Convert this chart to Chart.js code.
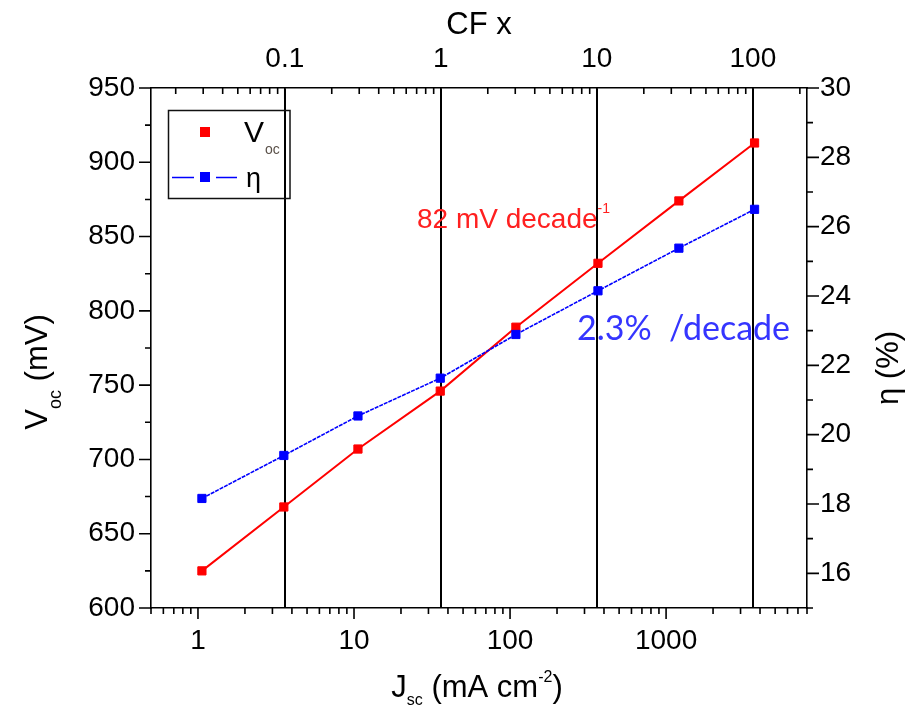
<!DOCTYPE html>
<html><head><meta charset="utf-8">
<script src="https://cdn.jsdelivr.net/npm/chart.js@4/dist/chart.umd.min.js"></script>
<style>html,body{margin:0;padding:0;background:#fff;}canvas{display:block;}</style>
</head><body>
<canvas id="c" width="910" height="709"></canvas>
<script>
// ---- data ----
const jsc = [1.06, 3.55, 10.6, 35.7, 109, 366, 1208, 3690];          // mA cm^-2
const voc = [625, 668, 707, 746, 789, 832, 874, 913];                 // mV
const eta = [18.16, 19.40, 20.54, 21.63, 22.89, 24.15, 25.38, 26.50]; // %
const jscTicks = [1, 10, 100, 1000];
const cfTicks = [0.1, 1, 10, 100];
const vocTicks = [600, 650, 700, 750, 800, 850, 900, 950];
const etaTicks = [16, 18, 20, 22, 24, 26, 28, 30];
const jscRange = [0.5, 8000];
const vocRange = [600, 950];
const etaRange = [15, 30];
const sunJsc = 36;           // Jsc at 1 sun (CF = Jsc / sunJsc)
const vocMinorStep = 25;
const etaMinorStep = 1;
const vocAnnot = '82 mV decade';
const etaAnnot = '2.3%  /decade';

const SANS = "'Liberation Sans', Arial, sans-serif";
const RED = '#ff0000', BLUE = '#0000ff';

function logTicks(min, max) {
  const out = [];
  for (let e = Math.floor(Math.log10(min)); e <= Math.ceil(Math.log10(max)); e++) {
    for (let k = 1; k < 10; k++) {
      const v = k * Math.pow(10, e);
      if (v >= min * 0.9999 && v <= max * 1.0001) out.push({ v, major: k === 1 });
    }
  }
  return out;
}

function rich(ctx, parts, x, y, align) {
  let total = 0;
  const ws = parts.map(p => {
    ctx.font = (p.weight || '') + ' ' + p.size + 'px ' + (p.family || SANS);
    const w = ctx.measureText(p.t).width; total += w; return w;
  });
  let cx = align === 'center' ? x - total / 2 : (align === 'right' ? x - total : x);
  parts.forEach((p, i) => {
    ctx.font = (p.weight || '') + ' ' + p.size + 'px ' + (p.family || SANS);
    ctx.fillStyle = p.color || '#000';
    ctx.fillText(p.t, cx, y + (p.dy || 0));
    cx += ws[i];
  });
}

const tickPlugin = {
  id: 'tickMarks',
  afterDraw(chart) {
    const ctx = chart.ctx, a = chart.chartArea, s = chart.scales;
    ctx.save();
    ctx.strokeStyle = '#000'; ctx.lineWidth = 1.6;
    ctx.beginPath();
    for (const t of logTicks(s.x.min, s.x.max)) {
      const px = s.x.getPixelForValue(t.v);
      ctx.moveTo(px, a.bottom); ctx.lineTo(px, a.bottom + (t.major ? 11 : 6));
    }
    for (const t of logTicks(s.x2.min, s.x2.max)) {
      const px = s.x2.getPixelForValue(t.v);
      ctx.moveTo(px, a.top); ctx.lineTo(px, a.top + (t.major ? 11 : 6));
    }
    for (let v = s.y.min; v <= s.y.max + 1e-9; v += vocMinorStep) {
      const py = s.y.getPixelForValue(v);
      const major = vocTicks.includes(v);
      ctx.moveTo(a.left, py); ctx.lineTo(a.left - (major ? 12 : 6), py);
    }
    for (let v = s.y2.min; v <= s.y2.max + 1e-9; v += etaMinorStep) {
      const py = s.y2.getPixelForValue(v);
      const major = etaTicks.includes(v);
      ctx.moveTo(a.right, py); ctx.lineTo(a.right + (major ? 12 : 6), py);
    }
    ctx.stroke();
    ctx.restore();
  }
};

const textPlugin = {
  id: 'texts',
  afterDraw(chart) {
    const ctx = chart.ctx, a = chart.chartArea;
    ctx.save();
    ctx.textBaseline = 'alphabetic';
    // top title
    rich(ctx, [{ t: 'CF x', size: 31 }], (a.left + a.right) / 2, 34, 'center');
    // bottom title
    rich(ctx, [
      { t: 'J', size: 31 }, { t: 'sc', size: 16, dy: 8 }, { t: ' (mA cm', size: 31 },
      { t: '-2', size: 16, dy: -15 }, { t: ')', size: 31 }
    ], 477, 697, 'center');
    // left title
    ctx.save(); ctx.translate(47, 372); ctx.rotate(-Math.PI / 2);
    rich(ctx, [{ t: 'V', size: 31 }, { t: 'oc', size: 18, dy: 14 }, { t: ' (mV)', size: 31 }], 0, 0, 'center');
    ctx.restore();
    // right title
    ctx.save(); ctx.translate(898, 368); ctx.rotate(-Math.PI / 2);
    rich(ctx, [{ t: 'η (%)', size: 31 }], 0, 0, 'center');
    ctx.restore();
    // annotations
    rich(ctx, [{ t: vocAnnot, size: 28, color: '#ff2020' }, { t: '-1', size: 14, dy: -15, color: '#ff2020' }], 417, 228, 'left');
    rich(ctx, [{ t: etaAnnot, size: 34, color: '#3535ff', family: "Lato, 'Open Sans', sans-serif" }], 577, 340, 'left');
    // legend
    ctx.strokeStyle = '#111'; ctx.lineWidth = 1.5;
    ctx.strokeRect(168.5, 110.5, 121.5, 88);
    ctx.fillStyle = RED; ctx.fillRect(200, 127, 10, 10);
    ctx.strokeStyle = BLUE; ctx.lineWidth = 1.5;
    ctx.beginPath(); ctx.moveTo(172, 177.5); ctx.lineTo(194, 177.5); ctx.moveTo(216, 177.5); ctx.lineTo(237, 177.5); ctx.stroke();
    ctx.fillStyle = BLUE; ctx.fillRect(200, 172, 10, 10);
    rich(ctx, [{ t: 'V', size: 30 }], 244, 142, 'left');
    rich(ctx, [{ t: 'oc', size: 14, color: '#5a5048' }], 265, 154, 'left');
    rich(ctx, [{ t: 'η', size: 27 }], 246, 187, 'left');
    ctx.restore();
  }
};

const tickFont = { family: SANS, size: 28 };

new Chart(document.getElementById('c'), {
  type: 'line',
  data: {
    datasets: [
      {
        label: 'Voc', data: jsc.map((x, i) => ({ x, y: voc[i] })),
        xAxisID: 'x', yAxisID: 'y', order: 1,
        borderColor: RED, backgroundColor: RED, borderWidth: 2, tension: 0,
        pointStyle: 'rect', pointRadius: 5.8, pointBorderWidth: 1,
        pointBackgroundColor: RED, pointBorderColor: RED
      },
      {
        label: 'η', data: jsc.map((x, i) => ({ x, y: eta[i] })),
        xAxisID: 'x', yAxisID: 'y2', order: 0,
        borderColor: BLUE, backgroundColor: BLUE, borderWidth: 1.6, borderDash: [4, 1], tension: 0,
        pointStyle: 'rect', pointRadius: 5.8, pointBorderWidth: 1,
        pointBackgroundColor: BLUE, pointBorderColor: BLUE
      }
    ]
  },
  options: {
    responsive: false, animation: false, devicePixelRatio: 1,
    layout: { padding: 0 },
    plugins: { legend: { display: false }, tooltip: { enabled: false } },
    scales: {
      x: {
        type: 'logarithmic', position: 'bottom', min: jscRange[0], max: jscRange[1],
        afterBuildTicks: sc => { sc.ticks = jscTicks.map(v => ({ value: v })); },
        afterFit: sc => { sc.height = 101; },
        grid: { display: false, drawTicks: false },
        border: { display: true, color: '#000', width: 1.6 },
        ticks: { font: tickFont, color: '#000', padding: 16, autoSkip: false, maxRotation: 0, callback: v => String(v) }
      },
      x2: {
        type: 'logarithmic', position: 'top', min: jscRange[0] / sunJsc, max: jscRange[1] / sunJsc,
        afterBuildTicks: sc => { sc.ticks = cfTicks.map(v => ({ value: v })); },
        afterFit: sc => { sc.height = 88; },
        grid: { display: true, color: '#000', lineWidth: 2, drawTicks: false, drawOnChartArea: true },
        border: { display: true, color: '#000', width: 1.6 },
        ticks: { font: tickFont, color: '#000', padding: 12, autoSkip: false, maxRotation: 0, callback: v => String(v) }
      },
      y: {
        type: 'linear', position: 'left', min: vocRange[0], max: vocRange[1],
        afterBuildTicks: sc => { sc.ticks = vocTicks.map(v => ({ value: v })); },
        afterFit: sc => { sc.width = 151; },
        grid: { display: false, drawTicks: false },
        border: { display: true, color: '#000', width: 1.6 },
        ticks: { font: tickFont, color: '#000', padding: 16, autoSkip: false, callback: v => String(v) }
      },
      y2: {
        type: 'linear', position: 'right', min: etaRange[0], max: etaRange[1],
        afterBuildTicks: sc => { sc.ticks = etaTicks.map(v => ({ value: v })); },
        afterFit: sc => { sc.width = 103; },
        grid: { display: false, drawTicks: false },
        border: { display: true, color: '#000', width: 1.6 },
        ticks: { font: tickFont, color: '#000', padding: 13, autoSkip: false, callback: v => String(v) }
      }
    }
  },
  plugins: [tickPlugin, textPlugin]
});
</script>
</body></html>
